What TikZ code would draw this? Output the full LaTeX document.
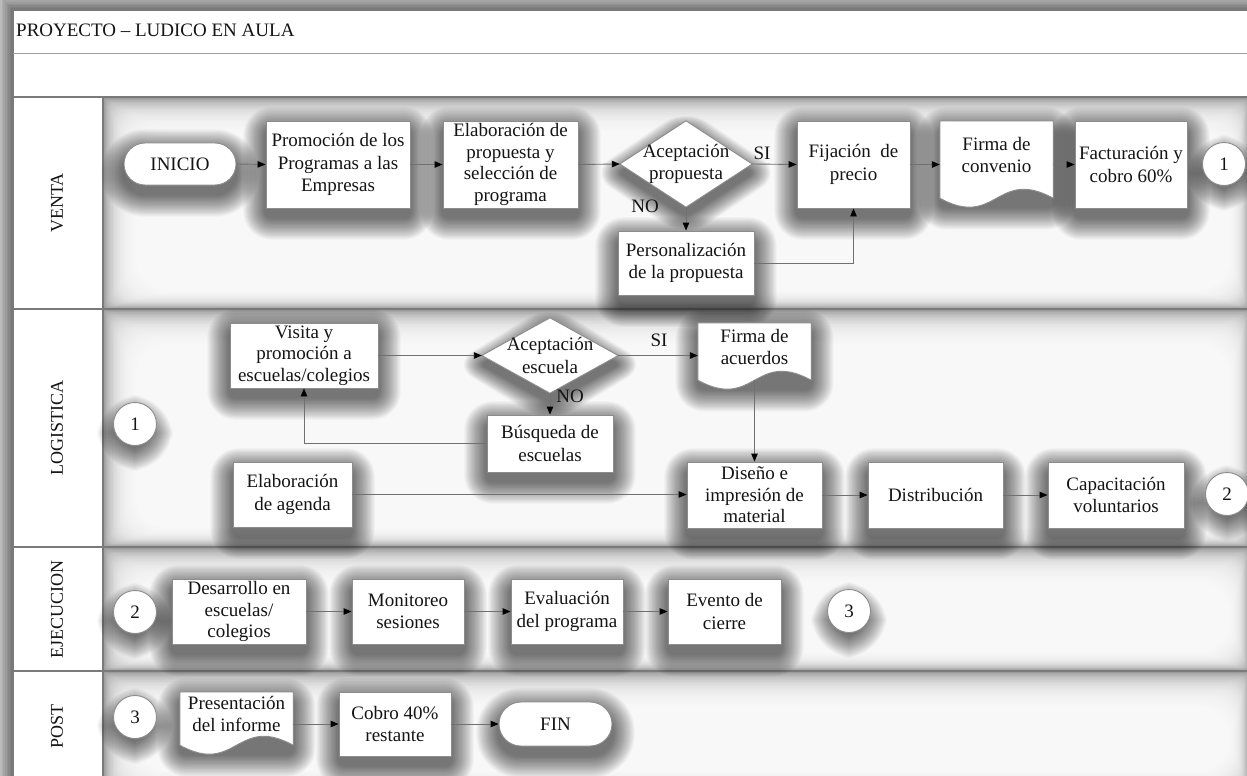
\documentclass[tikz,border=0pt]{standalone}
\usepackage{fontspec}
\setmainfont{Liberation Serif}
\usetikzlibrary{arrows.meta,calc}

\pgfdeclarelayer{bg}
\pgfdeclarelayer{shadow}
\pgfdeclarelayer{shape}
\pgfsetlayers{bg,shadow,shape,main}

\definecolor{ink}{HTML}{141414}
\definecolor{rule}{HTML}{7A7A7A}
\definecolor{edge}{HTML}{8C8C8C}
\definecolor{wire}{HTML}{707070}

\tikzset{
  every node/.style={font=\fontsize{19}{22.5}\selectfont, text=ink, inner sep=0pt, align=center},
  outline/.style={draw=edge, line width=0.9pt, fill=white},
  task/.style={outline, rectangle},
  terminal/.style={outline, rectangle, rounded corners=#1},
  marker/.style={outline, circle, minimum size=43},
  holder/.style={rectangle},
  flow/.style={draw=wire, line width=0.9pt, -{Triangle[length=8pt,width=6.5pt,color=black]}},
  lanename/.style={rotate=90, font=\fontsize{18}{20}\selectfont},
  frameline/.style={draw=rule, line width=1.1pt}
}

% soft drop shadow made of nested translucent rounded boxes
% (#3 extends it downwards, for the wavy document symbols)
\newcommand\softshadow[3]{%
  \foreach \k [evaluate=\k as \d using 0.8*\k, evaluate=\k as \rr using #2+6+0.8*\k] in {1,...,28}{%
    \fill[black, fill opacity=0.024, rounded corners=\rr]
      ($(#1.north west)+(-\d,-\d+9)$) rectangle ($(#1.south east)+(\d,\d+9+#3)$);}}
% the same for a decision diamond
\newcommand\diashadow[1]{%
  \foreach \k [evaluate=\k as \d using 0.8*\k] in {1,...,28}{%
    \fill[black, fill opacity=0.024, rounded corners=4+\d]
      ($(#1.north)+(0,-\d+9)$) -- ($(#1.east)+(\d*1.4,9)$) --
      ($(#1.south)+(0,\d+9)$) -- ($(#1.west)+(-\d*1.4,9)$) -- cycle;}}
% swim lane with an inner shadow along its edges
\newcommand\laneshade[2]{%
  \fill[black!40] (103,#1) rectangle (1249,#2);
  \foreach \k [evaluate=\k as \t using #1+1.5*\k, evaluate=\k as \l using 103+1.4*\k,
               evaluate=\k as \b using #2-0.8*\k, evaluate=\k as \r using 1249-0.8*\k] in {1,...,28}{%
    \fill[white, fill opacity=0.13, rounded corners=1.5*\k] (\l,\t) rectangle (\r,\b);}}
% document symbol: text box plus a wavy lower edge 9 units below it
\newcommand\docshape[1]{%
  \path[outline] (#1.north west) -- (#1.north east) -- ($(#1.south east)+(0,9)$)
    .. controls ($(#1.south)+(0,-22)$) and ($(#1.south)+(0,40)$) .. ($(#1.south west)+(0,9)$) -- cycle;}
\newcommand\diashape[1]{%
  \path[outline] (#1.north) -- (#1.east) -- (#1.south) -- (#1.west) -- cycle;}

\begin{document}
\begin{tikzpicture}[x=1pt,y=-1pt]
\useasboundingbox (0,0) rectangle (1247,776);

% ---------- frame, header and lanes ----------
\begin{pgfonlayer}{bg}
  \fill[black!22] (0,0) rectangle (1247,776);
  \foreach \k [evaluate=\k as \d using 1.6*\k] in {1,...,8}{%
    \fill[black, fill opacity=0.06] (13-\d,10-\d) rectangle (1260,790);}
  \fill[white] (13,10) rectangle (1260,790);
  \laneshade{97}{309}
  \laneshade{309}{547}
  \laneshade{547}{671}
  \laneshade{671}{790}
  \draw[frameline] (1260,10) -- (13,10) -- (13,790);
  \draw[draw=rule!70, line width=0.9pt] (13,53) -- (1260,53);
  \draw[frameline] (13,97) -- (1260,97);
  \draw[frameline] (103,97) -- (103,790);
  \draw[frameline] (13,309) -- (1260,309);
  \draw[frameline] (13,547) -- (1260,547);
  \draw[frameline] (13,671) -- (1260,671);
\end{pgfonlayer}

\node[anchor=base west] (title) at (16,37) {PROYECTO – LUDICO EN AULA};

\node[lanename] (lventa) at (57,203) {VENTA};
\node[lanename] (llog)   at (57,428) {LOGISTICA};
\node[lanename] (lejec)  at (57,609) {EJECUCION};
\node[lanename] (lpost)  at (57,726) {POST};

% ---------- VENTA ----------
\node[terminal=21, minimum width=112, minimum height=42] (inicio) at (180,164) {INICIO};
\node[task, minimum width=144, minimum height=87] (promo) at (338,164.5) {Promoción de los\\Programas a las\\Empresas};
\node[task, minimum width=135, minimum height=87, font=\fontsize{19}{21.5}\selectfont] (elab) at (510.5,164.5) {Elaboración de\\propuesta y\\selección de\\programa};
\node[holder, minimum width=132, minimum height=86] (dia1) at (686,164) {Aceptación\\propuesta};
\node[task, minimum width=136, minimum height=64] (pers) at (686,263) {Personalización\\de la propuesta};
\node[task, minimum width=113, minimum height=87] (fij) at (853.5,164.5) {Fijación~ de\\precio};
\node[holder, minimum width=113, minimum height=68] (firma) at (996.5,155) {Firma de\\convenio};
\node[task, minimum width=112, minimum height=87] (fact) at (1131,164.5) {Facturación y\\cobro 60\%};
\node[marker] (c1a) at (1224,164) {1};
\node (si1) at (762,153) {SI};
\node (no1) at (645,206) {NO};

% ---------- LOGISTICA ----------
\node[marker] (c1b) at (135,424) {1};
\node[task, minimum width=148, minimum height=65, font=\fontsize{19}{21.5}\selectfont] (visita) at (304,355.5) {Visita y\\promoción a\\escuelas/colegios};
\node[holder, minimum width=136, minimum height=75] (dia2) at (550,355.5) {Aceptación\\escuela};
\node[task, minimum width=126, minimum height=57] (busq) at (550,443.5) {Búsqueda de\\escuelas};
\node[holder, minimum width=113, minimum height=48] (firmaac) at (754.5,347) {Firma de\\acuerdos};
\node[task, minimum width=119, minimum height=65] (agenda) at (292.5,494.5) {Elaboración\\de agenda};
\node[task, minimum width=135, minimum height=66, font=\fontsize{19}{21.5}\selectfont] (diseno) at (754.5,495) {Diseño e\\impresión de\\material};
\node[task, minimum width=135, minimum height=66] (distrib) at (935.5,495) {Distribución};
\node[task, minimum width=136, minimum height=66] (capac) at (1116,495) {Capacitación\\voluntarios};
\node[marker] (c2a) at (1227,494) {2};
\node (si2) at (659,340) {SI};
\node (no2) at (570,396) {NO};

% ---------- EJECUCION ----------
\node[marker] (c2b) at (135,612) {2};
\node[task, minimum width=134, minimum height=65, font=\fontsize{19}{21.5}\selectfont] (desa) at (239,611.5) {Desarrollo en\\escuelas/\\colegios};
\node[task, minimum width=112, minimum height=65] (moni) at (408,611.5) {Monitoreo\\sesiones};
\node[task, minimum width=112, minimum height=65] (eval) at (567,611.5) {Evaluación\\del programa};
\node[task, minimum width=113, minimum height=65] (evento) at (724.5,611.5) {Evento de\\cierre};
\node[marker] (c3a) at (849,611) {3};

% ---------- POST ----------
\node[marker] (c3b) at (135,717) {3};
\node[holder, minimum width=113, minimum height=44] (pres) at (236.5,714) {Presentación\\del informe};
\node[task, minimum width=112, minimum height=64] (cobro) at (395,724) {Cobro 40\%\\restante};
\node[terminal=22, minimum width=113, minimum height=44] (fin) at (555.5,724) {FIN};

% ---------- shadows and drawn symbols ----------
\begin{pgfonlayer}{shadow}
  \foreach \n in {promo,elab,pers,fij,fact,visita,busq,agenda,diseno,distrib,capac,desa,moni,eval,evento,cobro}{\softshadow{\n}{0}{0}}
  \foreach \n in {firma,firmaac,pres}{\softshadow{\n}{0}{9}}
  \foreach \n in {inicio,fin}{\softshadow{\n}{15}{0}}
  \foreach \n in {c1a,c1b,c2a,c2b,c3a,c3b}{\softshadow{\n}{15.5}{0}}
  \diashadow{dia1}
  \diashadow{dia2}
\end{pgfonlayer}
\begin{pgfonlayer}{shape}
  \diashape{dia1}
  \diashape{dia2}
  \docshape{firma}
  \docshape{firmaac}
  \docshape{pres}
\end{pgfonlayer}

% ---------- connectors ----------
\draw[flow] (inicio.east) -- (promo.west);
\draw[flow] (promo.east) -- (elab.west);
\draw[flow] (elab.east) -- (dia1.west);
\draw[flow] (dia1.east) -- (fij.west);
\draw[flow] (dia1.south) -- (pers.north);
\draw[flow] (pers.east) -| (fij.south);
\draw[flow] (fij.east) -- (fij.east -| firma.west);
\draw[flow] (firma.east |- fact.west) -- (fact.west);

\draw[flow] (visita.east) -- (dia2.west);
\draw[flow] (dia2.east) -- (dia2.east -| firmaac.west);
\draw[flow] (dia2.south) -- (busq.north);
\draw[flow] (busq.west) -| (visita.south);
\draw[flow] ($(firmaac.south)+(0,9)$) -- (diseno.north);
\draw[flow] (agenda.east) -- (agenda.east -| diseno.west);
\draw[flow] (diseno.east) -- (distrib.west);
\draw[flow] (distrib.east) -- (capac.west);

\draw[flow] (desa.east) -- (moni.west);
\draw[flow] (moni.east) -- (eval.west);
\draw[flow] (eval.east) -- (evento.west);

\draw[flow] (pres.east |- cobro.west) -- (cobro.west);
\draw[flow] (cobro.east) -- (fin.west);
\end{tikzpicture}
\end{document}
